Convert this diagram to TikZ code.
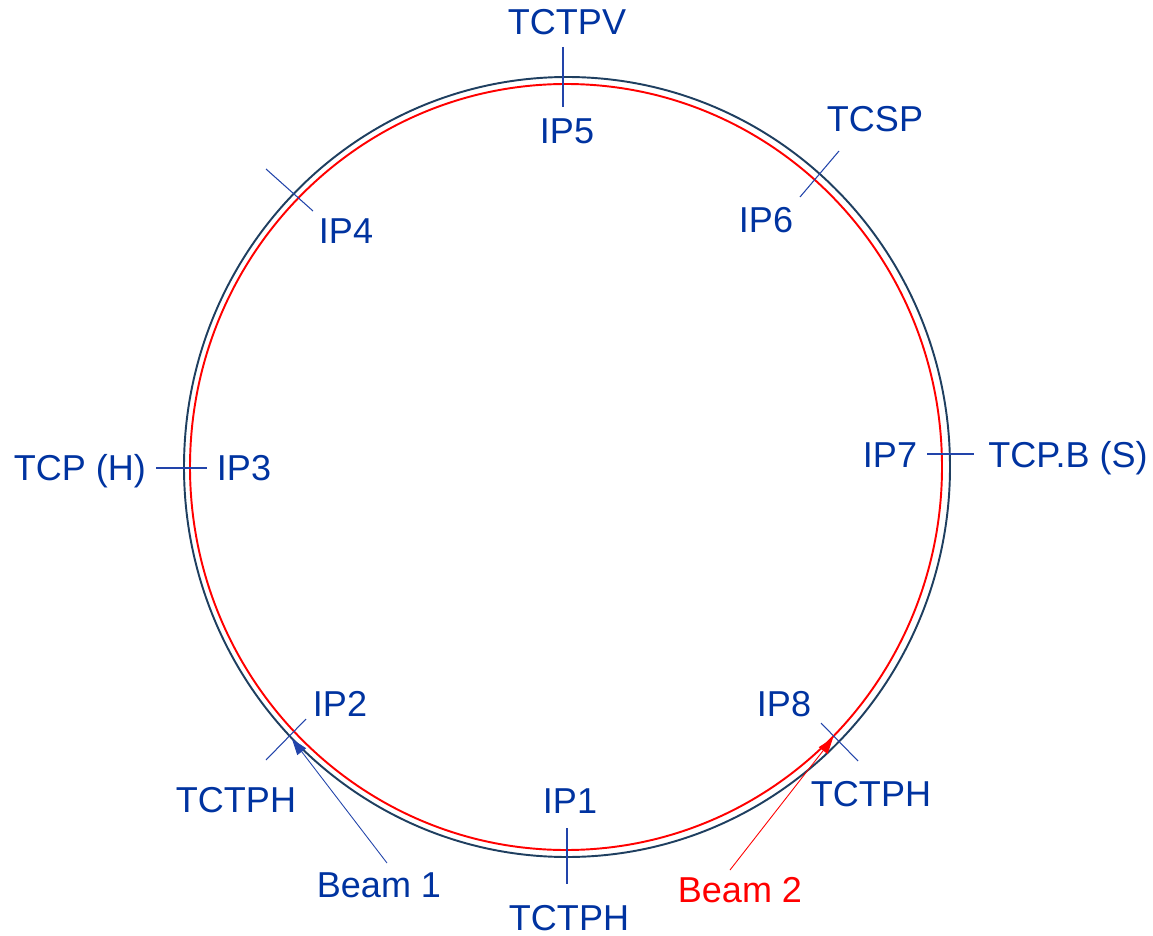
\documentclass[tikz,border=0pt]{standalone}
\usepackage{fontspec}
\setmainfont{Liberation Sans}
\usetikzlibrary{arrows.meta}

\begin{document}
\begin{tikzpicture}[x=0.02cm,y=-0.02cm,
    lbl/.style={text=lhc_blue,font=\fontsize{20.5}{24}\selectfont,inner sep=0pt,anchor=base},
    tickmark/.style={draw=tick_blue,line width=0.6pt},
    ring/.style={line width=1.1pt},
    beamarrow/.style={line width=0.5pt,-{Triangle[length=3.2mm,width=2.2mm]}}]
    \definecolor{lhc_blue}{HTML}{0033A0}
    \definecolor{tick_blue}{HTML}{2244AA}
    \definecolor{ring_navy}{HTML}{1F3F60}
    \definecolor{beam_red}{HTML}{FF0000}
    %\draw[help lines] (0,0) grid[step=100] (1153,936);
    \useasboundingbox (0,0) rectangle (1153,936);

    % the two rings
    \draw[ring,ring_navy] (567,467) ellipse [x radius=383, y radius=390];
    \draw[ring,beam_red] (566,467) ellipse [x radius=376, y radius=383];

    % collimator ticks
    \draw[tickmark] (563,47) -- (563,107);
    \draw[tickmark] (839,151) -- (800,197);
    \draw[tickmark] (266,169) -- (313,211);
    \draw[tickmark] (156,468) -- (207,468);
    \draw[tickmark] (927,454) -- (974,454);
    \draw[tickmark] (306,719) -- (266,760);
    \draw[tickmark] (821,723) -- (858,761);
    \draw[tickmark] (567,828) -- (567,884);

    % labels
    \node[lbl] (tctpv) at (567,35) {TCTPV};
    \node[lbl] (ip5) at (567,144) {IP5};
    \node[lbl] (tcsp) at (875,132) {TCSP};
    \node[lbl] (ip6) at (766,232) {IP6};
    \node[lbl] (ip4) at (346,243) {IP4};
    \node[lbl] (tcph) at (80,480) {TCP (H)};
    \node[lbl] (ip3) at (244,480) {IP3};
    \node[lbl] (ip7) at (890,467) {IP7};
    \node[lbl] (tcpbs) at (1068,467) {TCP.B (S)};
    \node[lbl] (ip2) at (340,716) {IP2};
    \node[lbl] (tctphl) at (236,812) {TCTPH};
    \node[lbl] (ip8) at (784,716) {IP8};
    \node[lbl] (tctphr) at (871,806) {TCTPH};
    \node[lbl] (ip1) at (570,813) {IP1};
    \node[lbl] (tctphb) at (569,930) {TCTPH};
    \node[lbl] (beam1) at (379,897) {Beam 1};
    \node[lbl,text=beam_red] (beam2) at (740,902) {Beam 2};

    % injection arrows
    \coordinate (b1start) at (387,863);
    \coordinate (b1tip) at (292,739);
    \coordinate (b2start) at (730,870);
    \coordinate (b2tip) at (833,738);
    \draw[beamarrow,tick_blue] (b1start) -- (b1tip);
    \draw[beamarrow,beam_red] (b2start) -- (b2tip);
\end{tikzpicture}
\end{document}
